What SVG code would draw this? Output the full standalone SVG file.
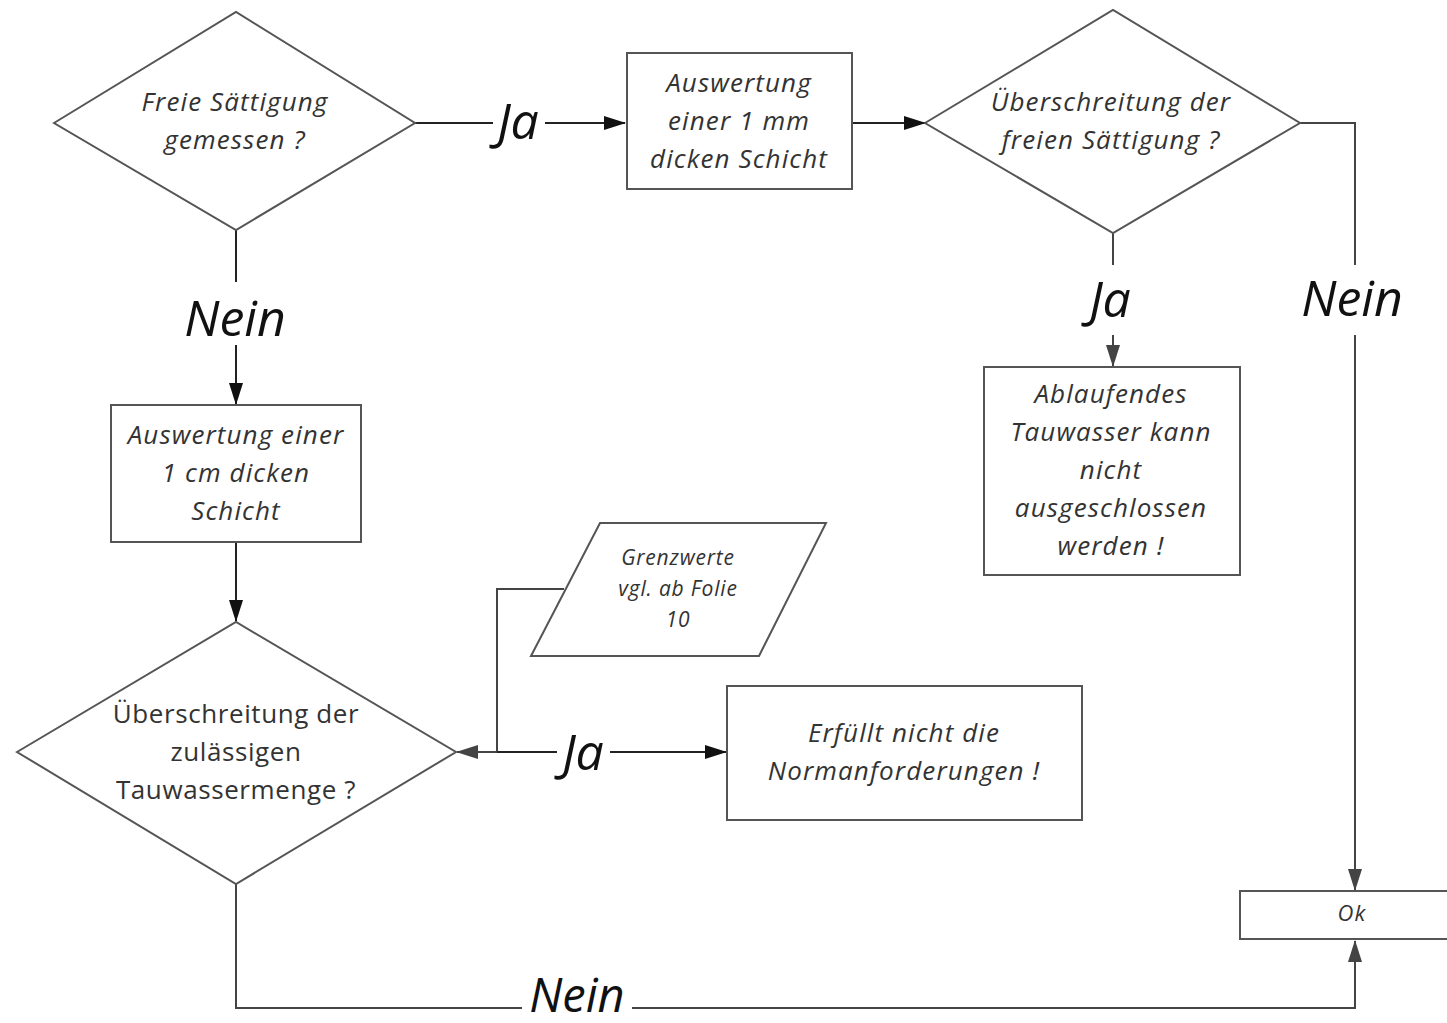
<svg xmlns="http://www.w3.org/2000/svg" width="1447" height="1023" viewBox="0 0 1447 1023">
<defs>
<marker id="ab" markerUnits="userSpaceOnUse" markerWidth="22" markerHeight="16" refX="21" refY="8" orient="auto"><path d="M0,1 L22,8 L0,15 Z" fill="#111"/></marker>
<marker id="ag" markerUnits="userSpaceOnUse" markerWidth="22" markerHeight="16" refX="21" refY="8" orient="auto"><path d="M0,1 L22,8 L0,15 Z" fill="#444"/></marker>
</defs>
<style>
.s{fill:#fff;stroke:#555;stroke-width:2}
.t{font-family:"Open Sans","Noto Sans",sans-serif;font-style:italic;font-size:26px;letter-spacing:1.1px;fill:#333;text-anchor:middle}
.u{font-family:"Open Sans","Noto Sans",sans-serif;font-size:26px;letter-spacing:0.6px;fill:#333;text-anchor:middle}
.sm{font-size:21px;letter-spacing:0.8px}
.l{font-family:"Open Sans","Noto Sans",sans-serif;font-style:italic;font-size:50px;fill:#111;text-anchor:middle}
.c{fill:none;stroke:#222;stroke-width:2}
.cg{fill:none;stroke:#444;stroke-width:2}
</style>
<rect width="1447" height="1023" fill="#fff"/>
<g id="connectors">
<path class="c" d="M415,123 H493"/>
<path class="c" d="M545,123 H625" marker-end="url(#ab)"/>
<path class="c" d="M852,123 H925" marker-end="url(#ab)"/>
<path class="c" d="M236,230 V282"/>
<path class="c" d="M236,345 V404" marker-end="url(#ab)"/>
<path class="c" d="M236,542 V621" marker-end="url(#ab)"/>
<path class="cg" d="M1113,233 V265"/>
<path class="cg" d="M1113,335 V366" marker-end="url(#ag)"/>
<path class="cg" d="M1300,123 H1355 V265"/>
<path class="cg" d="M1355,335 V890" marker-end="url(#ag)"/>
<path class="cg" d="M564,589 H497 V752 H457" marker-end="url(#ag)"/>
<path class="c" d="M497,752 H557"/>
<path class="c" d="M610,752 H726" marker-end="url(#ab)"/>
<path class="cg" d="M236,884 V1008 H522"/>
<path class="cg" d="M632,1008 H1355 V941" marker-end="url(#ag)"/>
<text class="l" x="518" y="139">Ja</text>
<text class="l" x="235" y="336">Nein</text>
<text class="l" x="1110" y="317">Ja</text>
<text class="l" x="1352" y="316">Nein</text>
<text class="l" x="583" y="770">Ja</text>
<text class="l" x="577" y="1012" style="font-size:47px">Nein</text>
</g>
<g id="d1">
<polygon class="s" points="54,123 236,12 415,123 236,230"/>
<text class="t" x="235" y="111">Freie Sättigung</text>
<text class="t" x="235" y="149">gemessen ?</text>
</g>
<g id="b1">
<rect class="s" x="627" y="53" width="225" height="136"/>
<text class="t" x="739" y="92">Auswertung</text>
<text class="t" x="739" y="130">einer 1 mm</text>
<text class="t" x="739" y="168">dicken Schicht</text>
</g>
<g id="d2">
<polygon class="s" points="925,123 1113,10 1300,123 1113,233"/>
<text class="t" x="1111" y="111">Überschreitung der</text>
<text class="t" x="1111" y="149">freien Sättigung ?</text>
</g>
<g id="b2">
<rect class="s" x="111" y="405" width="250" height="137"/>
<text class="t" x="236" y="444">Auswertung einer</text>
<text class="t" x="236" y="482">1 cm dicken</text>
<text class="t" x="236" y="520">Schicht</text>
</g>
<g id="d3">
<polygon class="s" points="17,752 236,622 456,752 236,884"/>
<text class="u" x="236" y="723">Überschreitung der</text>
<text class="u" x="236" y="761">zulässigen</text>
<text class="u" x="236" y="799">Tauwassermenge ?</text>
</g>
<g id="p1">
<polygon class="s" points="531,656 600,523 826,523 759,656"/>
<text class="t sm" x="678" y="565">Grenzwerte</text>
<text class="t sm" x="678" y="596">vgl. ab Folie</text>
<text class="t sm" x="678" y="627">10</text>
</g>
<g id="b3">
<rect class="s" x="727" y="686" width="355" height="134"/>
<text class="t" x="904" y="742">Erfüllt nicht die</text>
<text class="t" x="904" y="780">Normanforderungen !</text>
</g>
<g id="b4">
<rect class="s" x="984" y="367" width="256" height="208"/>
<text class="t" x="1111" y="403">Ablaufendes</text>
<text class="t" x="1111" y="441">Tauwasser kann</text>
<text class="t" x="1111" y="479">nicht</text>
<text class="t" x="1111" y="517">ausgeschlossen</text>
<text class="t" x="1111" y="555">werden !</text>
</g>
<g id="ok">
<rect class="s" x="1240" y="891" width="215" height="48"/>
<text class="t" x="1352" y="921" style="font-size:22px">Ok</text>
</g>
</svg>
